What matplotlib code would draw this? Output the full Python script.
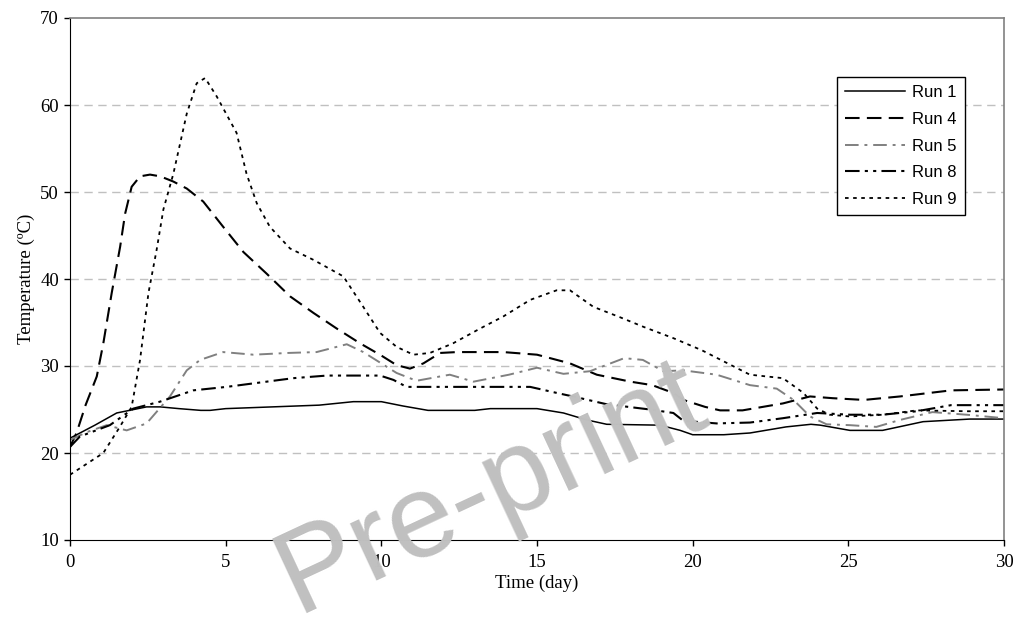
import numpy as np
import matplotlib.pyplot as plt

# datos (dia, temperatura)
run1_day = [0, 0.8, 1.5, 2.46, 2.9, 3.5, 4.2, 4.5, 5.0, 6.5, 8.0, 9.1, 10.0, 10.7, 11.5, 13.0, 13.5,
            15.0, 15.85, 16.6, 17.24, 18.95, 19.6, 20.0, 21.0, 21.84, 23.0, 23.8, 24.1, 25.05, 26.1,
            27.4, 28.9, 30]
run1_temp = [21.7, 23.2, 24.6, 25.3, 25.3, 25.1, 24.9, 24.9, 25.1, 25.3, 25.5, 25.9, 25.9, 25.4, 24.9,
             24.9, 25.1, 25.1, 24.6, 23.8, 23.3, 23.2, 22.6, 22.1, 22.1, 22.3, 23.0, 23.3, 23.2, 22.6,
             22.6, 23.6, 23.9, 23.9]

run4_day = [0, 0.21, 0.5, 0.86, 1.07, 1.34, 1.61, 1.77, 1.98, 2.25, 2.57, 2.9, 3.32, 3.75, 4.28, 4.92,
            5.57, 6.32, 7.07, 7.82, 8.57, 9.32, 10.0, 10.49, 10.92, 11.35, 11.89, 12.42, 13.92, 15.0,
            16.06, 16.92, 18.0, 18.7, 19.38, 19.7, 20.4, 20.88, 21.6, 22.9, 23.77, 24.5, 25.5, 26.66,
            28.3, 30]
run4_temp = [20.7, 22.3, 25.5, 28.8, 32.6, 38.4, 43.7, 47.5, 50.6, 51.8, 52.0, 51.8, 51.2, 50.4, 48.9,
             46.0, 43.1, 40.6, 38.0, 36.1, 34.3, 32.6, 31.2, 30.1, 29.7, 30.3, 31.5, 31.6, 31.6, 31.3,
             30.3, 29.0, 28.2, 27.8, 26.9, 26.1, 25.3, 24.9, 24.9, 25.7, 26.5, 26.3, 26.1, 26.5, 27.2,
             27.3]

run5_day = [0, 0.54, 1.18, 1.82, 2.46, 3.21, 3.75, 4.18, 4.92, 5.89, 7.0, 7.92, 8.89, 9.42, 10.49,
            11.13, 11.89, 12.2, 12.96, 14.1, 15.0, 15.85, 16.7, 17.8, 18.4, 19.06, 19.7, 20.77, 21.84,
            22.7, 23.24, 23.77, 24.3, 25.05, 25.9, 26.66, 27.7, 28.8, 30]
run5_temp = [21.5, 22.4, 23.2, 22.6, 23.4, 26.5, 29.5, 30.7, 31.6, 31.3, 31.5, 31.6, 32.5, 31.6, 29.2,
             28.3, 28.8, 29.0, 28.2, 29.0, 29.8, 29.1, 29.4, 30.9, 30.7, 29.4, 29.5, 29.0, 27.8, 27.4,
             26.1, 24.2, 23.3, 23.2, 23.0, 23.8, 24.7, 24.4, 24.0]

run8_day = [0, 0.32, 1.28, 2.03, 2.89, 3.96, 5.03, 6.1, 7.17, 8.25, 9.96, 10.39, 10.81, 14.78, 15.64,
            16.28, 17.24, 18.63, 19.38, 19.7, 20.77, 21.84, 22.9, 24.0, 25.05, 26.1, 27.2, 28.3, 30]
run8_temp = [20.7, 21.9, 23.2, 25.1, 25.9, 27.2, 27.6, 28.1, 28.6, 28.9, 28.9, 28.4, 27.6, 27.6, 26.9,
             26.4, 25.6, 25.0, 24.6, 23.7, 23.4, 23.5, 24.0, 24.6, 24.4, 24.4, 24.8, 25.5, 25.5]

run9_day = [0, 1.07, 1.6, 1.98, 2.25, 2.52, 2.78, 3.0, 3.32, 3.75, 4.07, 4.34, 4.71, 5.35, 5.67, 6.0,
            6.42, 7.07, 7.82, 8.78, 9.42, 9.96, 10.49, 11.03, 11.56, 12.3, 13.17, 13.92, 14.78, 15.63,
            16.06, 16.81, 17.67, 18.42, 19.38, 20.3, 21.84, 22.9, 23.56, 24.0, 24.4, 25.05, 26.1,
            27.2, 28.8, 30]
run9_temp = [17.5, 20.0, 23.0, 25.3, 30.7, 38.4, 43.3, 48.0, 52.1, 59.0, 62.5, 63.1, 61.0, 56.8, 52.1,
             48.7, 46.0, 43.5, 42.2, 40.3, 36.8, 33.8, 32.2, 31.3, 31.5, 32.6, 34.3, 35.7, 37.6, 38.7,
             38.7, 36.8, 35.6, 34.5, 33.2, 31.8, 29.0, 28.6, 26.9, 25.1, 24.4, 24.2, 24.4, 24.9, 24.8,
             24.8]

plt.rcParams['font.family'] = 'Liberation Serif'

fig = plt.figure(figsize=(10.21, 6.21), dpi=100)
ax = fig.add_axes([70/1021, 81/621, 934/1021, 522/621])

ax.plot(run1_day, run1_temp, '-', color='black', lw=1.1, label='Run 1')
ax.plot(run4_day, run4_temp, color='black', lw=1.5, ls=(0, (7, 3.5)), label='Run 4')
ax.plot(run5_day, run5_temp, color='#808080', lw=1.4, ls=(0, (7, 3, 1.5, 3)), label='Run 5')
ax.plot(run8_day, run8_temp, color='black', lw=1.5, ls=(0, (7, 2.5, 1.5, 2.5, 1.5, 2.5)), label='Run 8')
ax.plot(run9_day, run9_temp, color='black', lw=1.3, ls=(0, (2, 2.5)), label='Run 9')

ax.set_xlim(0, 30)
ax.set_ylim(10, 70)
ax.set_xticks(range(0, 31, 5))
ax.set_yticks(range(10, 71, 10))
for y in range(20, 70, 10):
    ax.axhline(y, color='#c0c0c0', lw=1, ls=(0, (6, 4)), zorder=0)

ax.spines['top'].set_color('#808080')
ax.spines['right'].set_color('#808080')
ax.spines['top'].set_linewidth(1.2)
ax.spines['right'].set_linewidth(1.2)
ax.tick_params(direction='out', length=4, width=1, labelsize=13.5, pad=4)
ax.tick_params(axis='x', pad=6)
ax.tick_params(top=False, right=False)

ax.set_xlabel('Time (day)', fontsize=13.5, labelpad=3)
ax.set_ylabel('Temperature (ºC)', fontsize=13.5, labelpad=4)

leg = ax.legend(loc='upper right', bbox_to_anchor=(0.958, 0.887), borderaxespad=0,
                fancybox=False, edgecolor='black', framealpha=1, handlelength=3.6,
                labelspacing=0.7, prop={'family': 'Liberation Sans', 'size': 12},
                borderpad=0.5, handletextpad=0.4)
leg.get_frame().set_linewidth(1)

# marca de agua
fig.text(0.481, 0.213, 'Pre-print', fontsize=86, family='Liberation Sans', color='#c0c0c0',
         rotation=25, ha='center', va='center', zorder=10)

plt.savefig('out.png', dpi=100)
